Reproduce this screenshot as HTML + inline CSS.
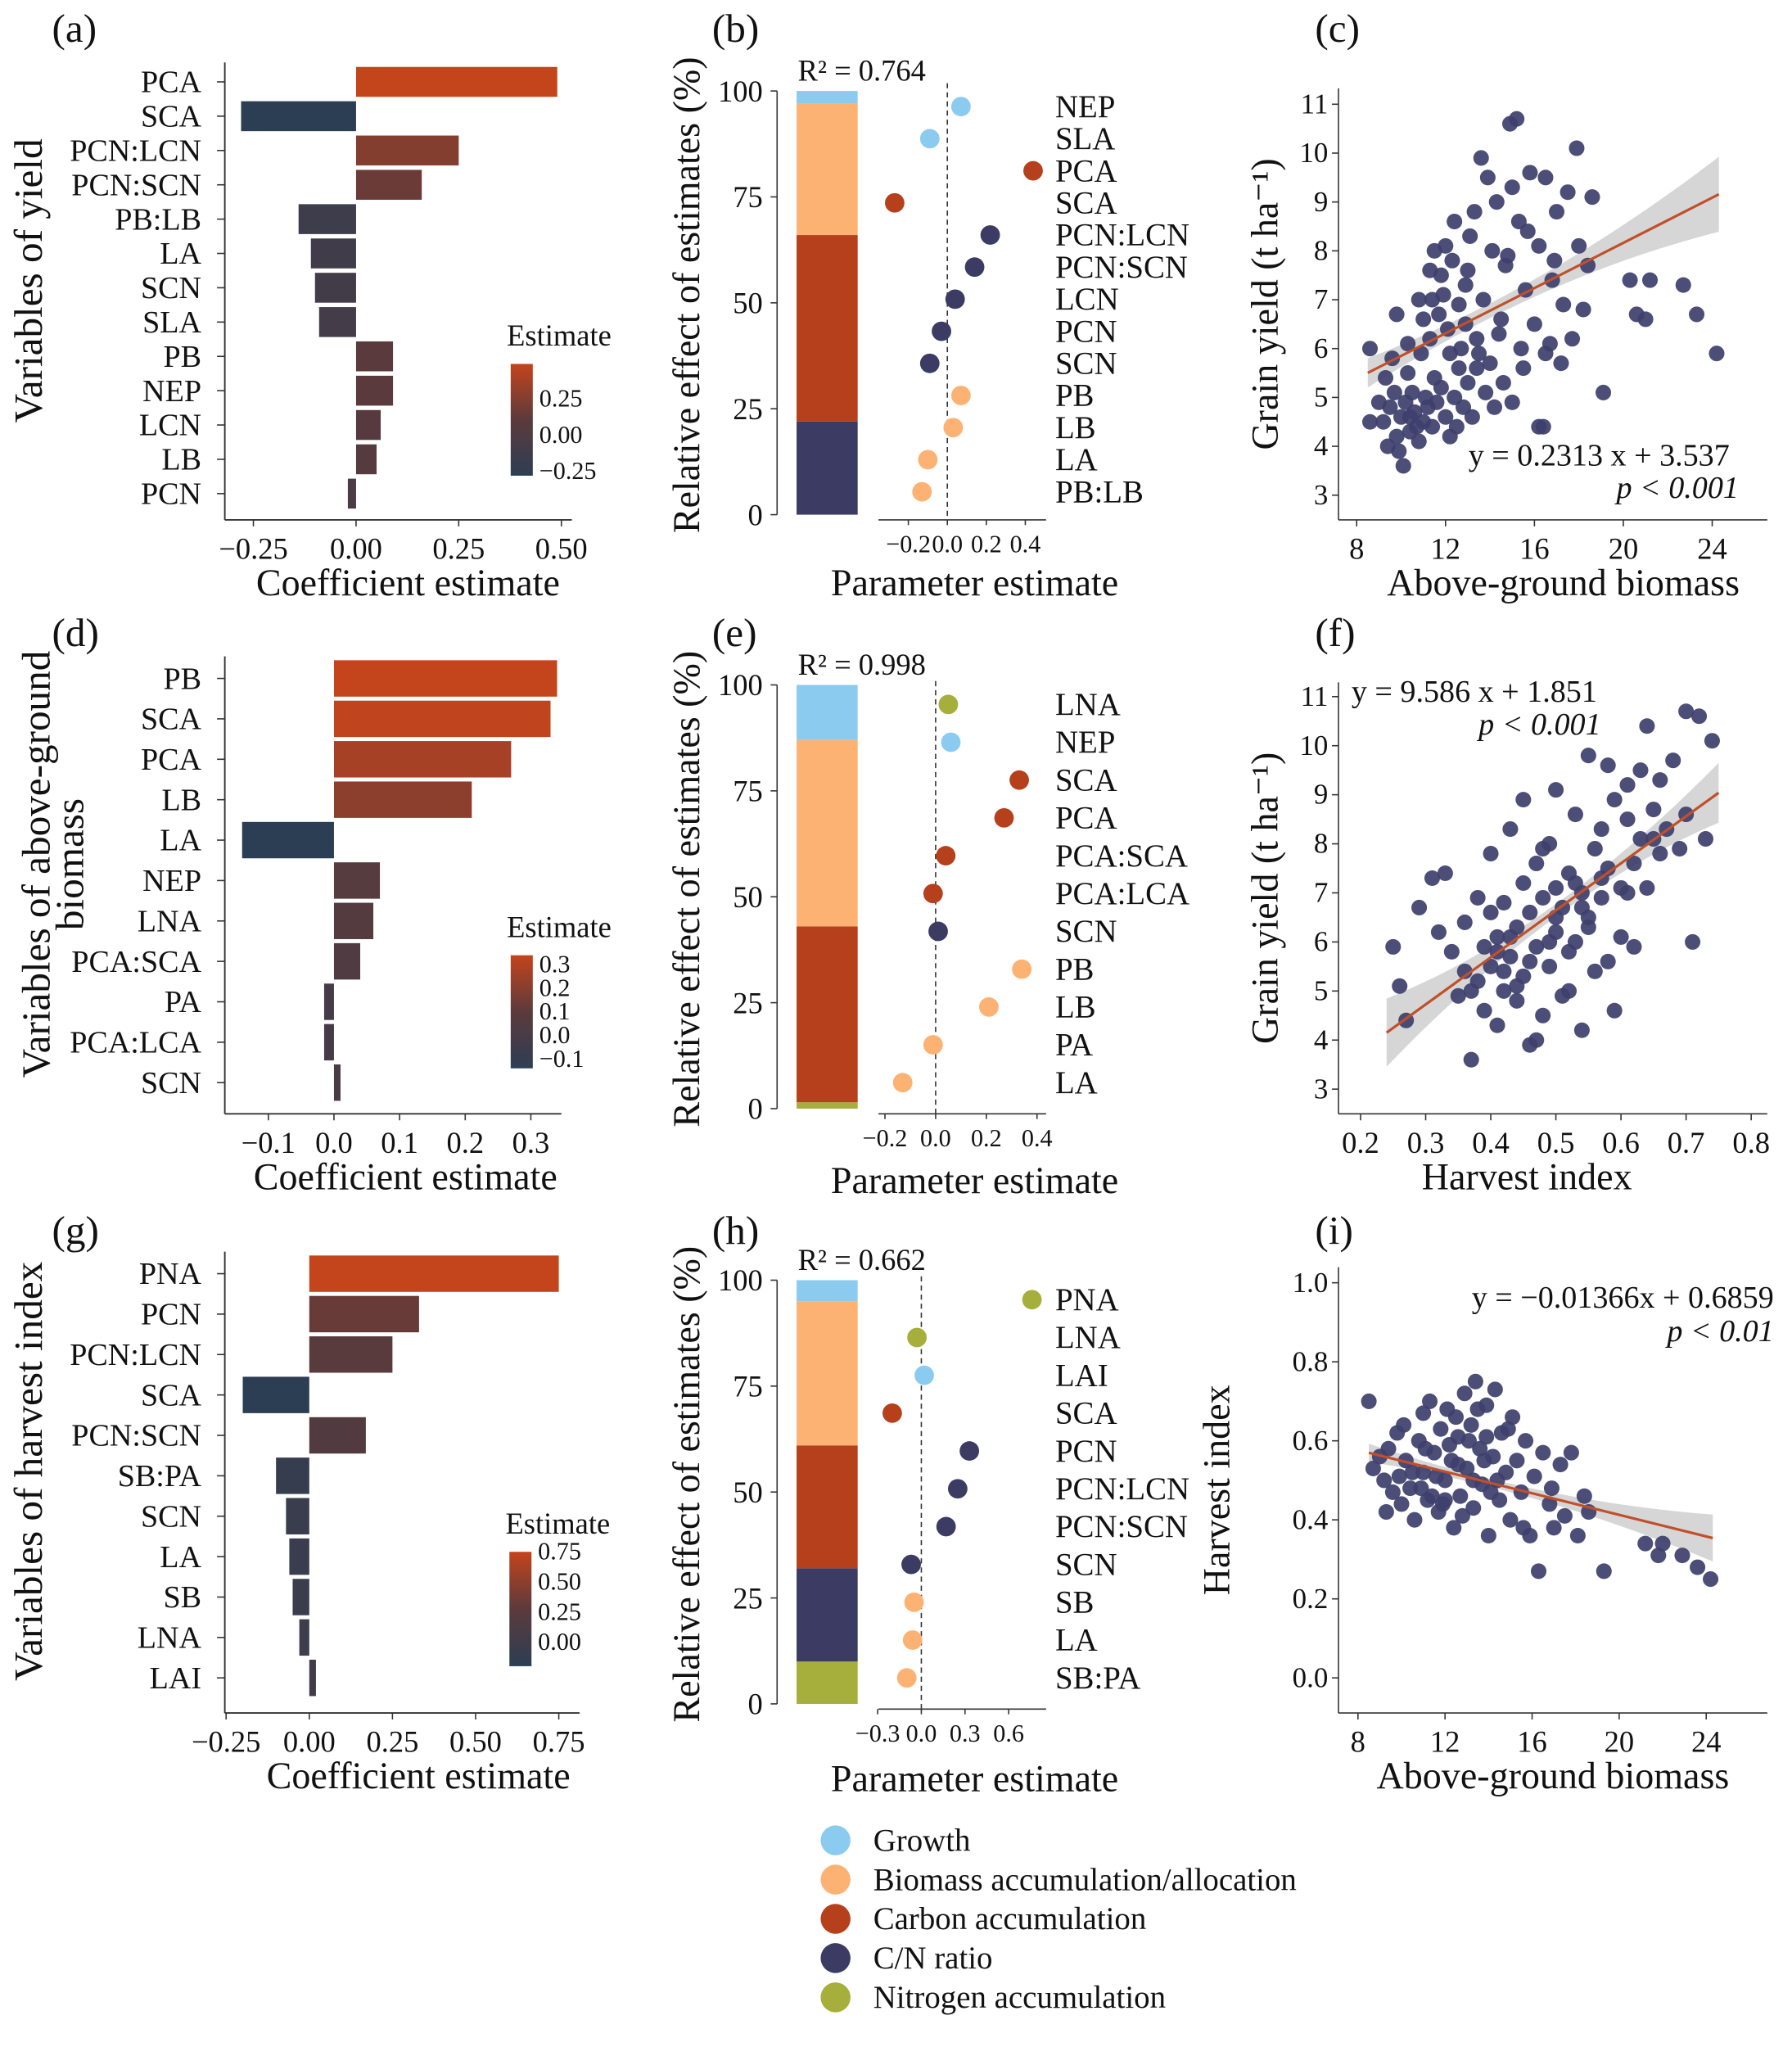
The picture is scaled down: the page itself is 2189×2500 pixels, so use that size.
<!DOCTYPE html>
<html><head><meta charset="utf-8"><style>
html,body{margin:0;padding:0;background:#fff;}
svg{display:block;font-family:"Liberation Serif",serif;}
</style></head><body>
<svg id="fig" width="2189" height="2500" viewBox="0 0 1379 1575" preserveAspectRatio="none" xmlns="http://www.w3.org/2000/svg"></svg>
<script>
// ---------- DATA ----------
const aCats=["PCA","SCA","PCN:LCN","PCN:SCN","PB:LB","LA","SCN","SLA","PB","NEP","LCN","LB","PCN"];
const aVals=[0.49,-0.28,0.25,0.16,-0.14,-0.11,-0.10,-0.09,0.09,0.09,0.06,0.05,-0.02];
const aTicks=[-0.25,0,0.25,0.5];
const aTickLabels=["\u22120.25","0.00","0.25","0.50"];
const dCats=["PB","SCA","PCA","LB","LA","NEP","LNA","PCA:SCA","PA","PCA:LCA","SCN"];
const dVals=[0.34,0.33,0.27,0.21,-0.14,0.07,0.06,0.04,-0.015,-0.015,0.01];
const dTicks=[-0.1,0,0.1,0.2,0.3];
const dTickLabels=["\u22120.1","0.0","0.1","0.2","0.3"];
const gCats=["PNA","PCN","PCN:LCN","SCA","PCN:SCN","SB:PA","SCN","LA","SB","LNA","LAI"];
const gVals=[0.75,0.33,0.25,-0.2,0.17,-0.1,-0.07,-0.06,-0.05,-0.03,0.02];
const gTicks=[-0.25,0,0.25,0.5,0.75];
const gTickLabels=["\u22120.25","0.00","0.25","0.50","0.75"];
// relative effects (stacked, %): order Nitrogen, C/N, Carbon, Biomass, Growth
const bShares=[0,22,44,31,3];
const eShares=[1.5,0,41.5,44,13];
const hShares=[10,22,29,34,5];
const bCats=["NEP","SLA","PCA","SCA","PCN:LCN","PCN:SCN","LCN","PCN","SCN","PB","LB","LA","PB:LB"];
const bEst=[0.07,-0.09,0.44,-0.27,0.22,0.14,0.04,-0.03,-0.09,0.07,0.03,-0.10,-0.13];
const bGroup=[4,4,2,2,1,1,1,1,1,3,3,3,3];
const eCats=["LNA","NEP","SCA","PCA","PCA:SCA","PCA:LCA","SCN","PB","LB","PA","LA"];
const eEst=[0.05,0.06,0.33,0.27,0.04,-0.01,0.01,0.34,0.21,-0.01,-0.13];
const eGroup=[0,4,2,2,2,2,1,3,3,3,3];
const hCats=["PNA","LNA","LAI","SCA","PCN","PCN:LCN","PCN:SCN","SCN","SB","LA","SB:PA"];
const hEst=[0.76,-0.03,0.02,-0.2,0.33,0.25,0.17,-0.07,-0.05,-0.06,-0.1];
const hGroup=[0,0,4,2,1,1,1,1,3,3,3];
const cX=[9.2,9.5,9.8,10.0,10.2,10.4,10.6,10.8,11.0,11.2,10.5,9.9,10.1,11.4,11.6,12.0,12.2,11.8,9.0,8.6,8.6,9.3,9.6,10.3,10.9,11.3,11.5,12.4,12.6,12.8,13.0,13.2,13.5,13.8,14.2,14.6,15.0,15.5,16.2,16.5,11.0,11.4,11.8,12.0,12.3,12.1,12.6,12.9,13.1,13.3,13.4,13.7,13.9,14.1,14.3,14.5,14.7,14.9,15.2,15.3,15.6,15.8,16.0,16.2,16.5,16.8,17.0,17.3,17.5,17.7,18.0,18.4,18.6,19.1,17.9,16.7,15.4,14.0,12.7,11.7,10.8,10.3,9.8,11.3,12.4,13.6,15.0,20.3,21.2,20.6,21.0,22.7,23.3,24.2,16.4,18.2,17.2,9.4,10.7,11.1,12.5,13.4,14.4,9.7,10.4,11.9,12.9,14.8,15.7,16.9,13.0,12.2,11.5];
const cY=[4.5,4.8,4.2,4.6,4.9,4.3,4.7,4.1,4.5,4.8,5.1,3.9,3.6,4.4,4.9,4.6,4.2,5.2,4.9,6.0,4.5,5.4,5.8,5.5,5.9,6.2,5.4,5.0,5.6,4.8,5.3,4.6,5.9,5.1,4.8,5.3,4.9,5.6,4.4,5.9,6.6,7.0,7.5,8.1,7.8,6.4,6.9,7.3,8.3,8.8,6.2,7.0,9.5,8.0,9.0,6.6,7.7,10.6,10.7,8.6,7.2,9.6,6.5,8.1,9.5,7.4,8.8,6.9,9.2,6.2,8.1,7.7,9.1,5.1,10.1,6.1,6.0,5.7,6.0,6.7,7.0,6.1,6.7,7.6,8.6,9.9,9.3,7.4,7.4,6.7,6.6,7.3,6.7,5.9,4.4,6.8,5.7,4.0,4.4,5.0,4.4,5.6,6.3,5.1,4.6,7.1,6.5,7.9,8.4,7.8,7.6,5.9,8.0];
const fX=[0.25,0.26,0.27,0.29,0.31,0.33,0.32,0.34,0.35,0.36,0.37,0.38,0.38,0.39,0.40,0.40,0.41,0.41,0.42,0.42,0.43,0.43,0.44,0.44,0.45,0.45,0.46,0.46,0.47,0.47,0.48,0.48,0.49,0.49,0.50,0.50,0.50,0.51,0.51,0.52,0.52,0.53,0.53,0.54,0.54,0.55,0.55,0.56,0.56,0.57,0.57,0.58,0.58,0.59,0.59,0.60,0.60,0.61,0.61,0.62,0.62,0.63,0.63,0.64,0.64,0.65,0.66,0.66,0.67,0.68,0.69,0.70,0.70,0.71,0.72,0.73,0.74,0.36,0.44,0.47,0.52,0.40,0.55,0.58,0.48,0.45,0.53,0.39,0.43,0.46,0.50,0.54,0.57,0.61,0.65,0.42,0.49,0.37,0.41];
const fY=[5.9,5.1,4.4,6.7,7.3,7.4,6.2,5.8,4.9,6.4,3.6,5.2,6.9,4.6,5.5,7.8,6.1,4.3,5.0,6.8,5.7,8.3,4.8,6.3,7.2,5.3,3.9,6.6,5.9,7.6,4.5,6.9,5.5,8.0,6.2,7.1,9.1,4.9,6.7,5.8,7.4,8.6,6.0,4.2,7.0,9.8,6.5,7.9,5.4,8.3,6.9,7.5,9.6,4.6,8.9,7.1,6.1,8.5,9.2,7.6,5.9,8.1,9.5,7.1,10.4,8.7,7.8,9.3,8.3,9.7,7.9,10.7,8.6,6.0,10.6,8.1,10.1,5.4,5.1,4.0,5.0,6.6,6.3,5.6,7.9,8.9,7.2,5.9,6.1,5.6,6.5,6.7,7.3,7.0,8.1,5.4,6.0,5.0,5.8];
const iX=[8.5,8.7,9.0,9.2,9.4,9.6,9.8,10.0,10.2,10.4,10.6,10.8,11.0,11.0,11.2,11.3,11.5,11.7,11.8,12.0,12.1,12.3,12.4,12.6,12.7,12.9,13.0,13.2,13.3,13.4,13.6,13.7,13.9,14.0,14.2,14.3,14.5,14.6,14.8,15.0,15.1,15.3,15.5,15.7,15.9,16.1,16.3,16.5,16.8,17.0,17.3,17.5,17.8,18.1,18.4,18.6,19.3,21.2,21.8,22.0,22.9,23.6,24.2,12.2,10.9,11.6,13.1,14.9,12.8,10.1,9.3,14.4,15.6,16.9,13.8,11.9,12.5,13.5,10.5,11.4,12.6,13.3,14.1,9.9,11.1,12.0,13.9];
const iY=[0.70,0.53,0.56,0.50,0.58,0.47,0.62,0.44,0.55,0.48,0.40,0.60,0.52,0.67,0.45,0.70,0.57,0.42,0.63,0.50,0.68,0.55,0.38,0.61,0.46,0.72,0.53,0.64,0.43,0.75,0.58,0.49,0.69,0.36,0.56,0.73,0.45,0.62,0.52,0.40,0.66,0.55,0.47,0.60,0.36,0.51,0.27,0.57,0.44,0.38,0.54,0.41,0.57,0.36,0.46,0.42,0.27,0.34,0.31,0.34,0.31,0.28,0.25,0.59,0.48,0.51,0.60,0.63,0.41,0.64,0.42,0.50,0.38,0.48,0.55,0.44,0.66,0.68,0.52,0.46,0.54,0.50,0.47,0.51,0.58,0.45,0.61];

// ---------- HELPERS ----------
const NS="http://www.w3.org/2000/svg";
const svg=document.getElementById('fig');
function mk(tag,attrs,parent,text){const e=document.createElementNS(NS,tag);for(const k in attrs)e.setAttribute(k,attrs[k]);if(text!==undefined)e.textContent=text;(parent||svg).appendChild(e);return e;}
function txt(x,y,s,size,anchor,name,extra){const t=mk('text',Object.assign({x:x,y:y,'font-size':size,'text-anchor':anchor||'start',fill:'#111'},extra||{}),null,s);


return t;}
const groupColors=["#a6ae3c","#3b3b63","#b6401c","#fcb273","#8ccbf0"];
function lerp(a,b,t){return a.map((v,i)=>Math.round(v+(b[i]-v)*t));}
function cmap(v,mn,mx){const t=Math.max(0,Math.min(1,(v-mn)/(mx-mn)));const lo=[44,62,84],mid=[92,58,60],hi=[196,68,28];const c=t<0.5?lerp(lo,mid,t*2):lerp(mid,hi,(t-0.5)*2);return `rgb(${c[0]},${c[1]},${c[2]})`;}

function barPanel(o){
  const sx=v=>o.x0+(v-o.v0)*o.k;
  mk('line',{x1:173,y1:o.top,x2:173,y2:o.axisY,stroke:'#333','stroke-width':1.2});
  mk('line',{x1:173,y1:o.axisY,x2:o.xEnd,y2:o.axisY,stroke:'#333','stroke-width':1.2});
  const mn=Math.min(...o.vals),mx=Math.max(...o.vals);
  o.cats.forEach((c,i)=>{
    const y=o.y0+i*o.step;
    const v=o.vals[i];
    const r=mk('rect',{x:Math.min(sx(0),sx(v)),y:y-o.bh/2,width:Math.abs(sx(v)-sx(0)),height:o.bh,fill:cmap(v,mn,mx)});
    
    
    mk('line',{x1:167,y1:y,x2:173,y2:y,stroke:'#333'});
    txt(155,y+8,c,24,'end','row-label');
  });
  o.ticks.forEach((t,i)=>{
    mk('line',{x1:sx(t),y1:o.axisY,x2:sx(t),y2:o.axisY+5,stroke:'#333'});
    txt(sx(t),o.axisY+30,o.tickLabels[i],23,'middle','x-tick-label');
  });
  txt(o.titleX,o.axisY+58,'Coefficient estimate',29,'middle','x-axis-title');
  const cb=o.cb;
  const defs=mk('defs',{});
  const lg=mk('linearGradient',{id:o.id,x1:0,y1:1,x2:0,y2:0},defs);
  for(let s=0;s<=10;s++)mk('stop',{offset:s/10,'stop-color':cmap(mn+(mx-mn)*s/10,mn,mx)},lg);
  txt(cb.x-3,cb.top-14,'Estimate',23,'start','legend-title');
  const r=mk('rect',{x:cb.x,y:cb.top,width:17,height:cb.bot-cb.top,fill:`url(#${o.id})`});
  
  
  cb.ticks.forEach((t,i)=>{const y=cb.bot-(t-mn)/(mx-mn)*(cb.bot-cb.top);txt(cb.x+22,y+6,cb.labels[i],19,'start','colorbar-label');});
}

function dotPanel(o){
  const sy=p=>o.y0-p/100*(o.y0-o.y100);
  mk('line',{x1:598,y1:sy(0),x2:598,y2:sy(100),stroke:'#333'});
  [0,25,50,75,100].forEach(t=>{mk('line',{x1:593,y1:sy(t),x2:598,y2:sy(t),stroke:'#333'});txt(587,sy(t)+8,String(t),23,'end','y-tick-label');});
  let acc=0;
  o.shares.forEach((s,i)=>{if(s<=0)return;const r=mk('rect',{x:613,y:sy(acc+s),width:47,height:sy(acc)-sy(acc+s),fill:groupColors[i]});
    
    
    acc+=s;});
  txt(614,sy(100)-8,o.r2,23,'start','r-squared-label');
  txt(0,0,'Relative effect of estimates (%)',29,'middle','y-axis-title',{transform:`translate(538,${(sy(0)+sy(100))/2-6}) rotate(-90)`});
  const sx=v=>o.zero+v*o.k;
  mk('line',{x1:676,y1:o.axisY,x2:805,y2:o.axisY,stroke:'#333'});
  mk('line',{x1:sx(0),y1:o.rowY0-18,x2:sx(0),y2:o.axisY,stroke:'#333','stroke-dasharray':'4,3'});
  o.ticks.forEach((tk,i)=>{mk('line',{x1:sx(tk),y1:o.axisY,x2:sx(tk),y2:o.axisY+4,stroke:'#333'});txt(sx(tk),o.axisY+25,o.tickLabels[i],19,'middle','x-tick-label');});
  o.cats.forEach((c,i)=>{const y=o.rowY0+i*o.step;
    const d=mk('circle',{cx:sx(o.est[i]),cy:y,r:7.5,fill:groupColors[o.group[i]]});
    
    
    txt(812,y+8,c,24.5,'start','row-label');});
  txt(750,o.titleY,'Parameter estimate',29,'middle','x-axis-title');
}

function scatterPanel(o){
  const sx=v=>o.xp0+(v-o.xv0)*o.kx, sy=v=>o.yp0-(v-o.yv0)*o.ky;
  mk('line',{x1:o.left,y1:o.top,x2:o.left,y2:o.bottom,stroke:'#333'});
  mk('line',{x1:o.left,y1:o.bottom,x2:o.right,y2:o.bottom,stroke:'#333'});
  o.xt.forEach((t,i)=>{mk('line',{x1:sx(t),y1:o.bottom,x2:sx(t),y2:o.bottom+5,stroke:'#333'});txt(sx(t),o.bottom+30,o.xtl[i],23,'middle','x-tick-label');});
  o.yt.forEach((t,i)=>{mk('line',{x1:o.left-5,y1:sy(t),x2:o.left,y2:sy(t),stroke:'#333'});txt(o.left-8,sy(t)+7,o.ytl[i],22,'end','y-tick-label');});
  const xm=o.xs.reduce((a,b)=>a+b,0)/o.xs.length;
  const up=[],dn=[];
  for(let s=0;s<=30;s++){const x=o.lx0+(o.lx1-o.lx0)*s/30;const y=o.a*x+o.b;const hw=o.h0+o.h1*(x-xm)*(x-xm);up.push(sx(x)+','+sy(y+hw));dn.unshift(sx(x)+','+sy(y-hw));}
  const band=mk('polygon',{points:up.concat(dn).join(' '),fill:'#c8c8c8','fill-opacity':0.75});
  
  
  o.xs.forEach((x,i)=>{const c=mk('circle',{cx:sx(x),cy:sy(o.ys[i]),r:6,fill:'#3e3f6c','fill-opacity':0.92});
    
    });
  const l=mk('line',{x1:sx(o.lx0),y1:sy(o.a*o.lx0+o.b),x2:sx(o.lx1),y2:sy(o.a*o.lx1+o.b),stroke:'#c0502a','stroke-width':2});
  
  
  txt(o.xtitleX,o.bottom+58,o.xtitle,29,'middle','x-axis-title');
  txt(0,0,o.ytitle,29,'middle','y-axis-title',{transform:`translate(${o.ytX},${(o.top+o.bottom)/2}) rotate(-90)`});
}

// ---------- PANELS ----------
[["(a)",40,32],["(b)",548,32],["(c)",1012,32],["(d)",40,497],["(e)",548,497],["(f)",1012,497],["(g)",40,957],["(h)",548,957],["(i)",1012,957]].forEach(p=>txt(p[1],p[2],p[0],31,'start','panel-label'));

barPanel({id:'ga',cats:aCats,vals:aVals,ticks:aTicks,tickLabels:aTickLabels,x0:274,v0:0,k:316,y0:63,step:26.4,bh:23,top:48,axisY:400,xEnd:440,titleX:314,
  cb:{x:393,top:280,bot:366,ticks:[0.25,0,-0.25],labels:["0.25","0.00","\u22120.25"]}});
txt(0,0,'Variables of yield',31,'middle','y-axis-title',{transform:'translate(32,216) rotate(-90)'});
barPanel({id:'gd',cats:dCats,vals:dVals,ticks:dTicks,tickLabels:dTickLabels,x0:257,v0:0,k:505,y0:522,step:31.1,bh:28,top:505,axisY:857,xEnd:432,titleX:312,
  cb:{x:393,top:735,bot:822,ticks:[0.3,0.2,0.1,0,-0.1],labels:["0.3","0.2","0.1","0.0","\u22120.1"]}});
txt(0,0,'Variables of above-ground',31,'middle','y-axis-title',{transform:'translate(38,665) rotate(-90)'});
txt(0,0,'biomass',31,'middle','y-axis-title',{transform:'translate(64,665) rotate(-90)'});
barPanel({id:'gg',cats:gCats,vals:gVals,ticks:gTicks,tickLabels:gTickLabels,x0:238,v0:0,k:256,y0:980,step:31.1,bh:28,top:963,axisY:1318,xEnd:446,titleX:322,
  cb:{x:392,top:1194,bot:1282,ticks:[0.75,0.5,0.25,0],labels:["0.75","0.50","0.25","0.00"]}});
txt(0,0,'Variables of harvest index',31,'middle','y-axis-title',{transform:'translate(32,1132) rotate(-90)'});

dotPanel({shares:bShares,y0:396,y100:70,r2:'R\u00b2 = 0.764',cats:bCats,est:bEst,group:bGroup,zero:729,k:150,rowY0:82,step:24.7,axisY:400,ticks:[-0.2,0,0.2,0.4],tickLabels:["\u22120.2","0.0","0.2","0.4"],titleY:458});
dotPanel({shares:eShares,y0:853,y100:527,r2:'R\u00b2 = 0.998',cats:eCats,est:eEst,group:eGroup,zero:720,k:195,rowY0:542,step:29.1,axisY:857,ticks:[-0.2,0,0.2,0.4],tickLabels:["\u22120.2","0.0","0.2","0.4"],titleY:918});
dotPanel({shares:hShares,y0:1311,y100:985,r2:'R\u00b2 = 0.662',cats:hCats,est:hEst,group:hGroup,zero:709,k:112,rowY0:1000,step:29.1,axisY:1315,ticks:[-0.3,0,0.3,0.6],tickLabels:["\u22120.3","0.0","0.3","0.6"],titleY:1378});

scatterPanel({xs:cX,ys:cY,left:1030,right:1360,top:68,bottom:400,xp0:1044,xv0:8,kx:17.1,yp0:381,yv0:3,ky:37.6,
  xt:[8,12,16,20,24],xtl:["8","12","16","20","24"],yt:[3,4,5,6,7,8,9,10,11],ytl:["3","4","5","6","7","8","9","10","11"],
  a:0.2313,b:3.537,lx0:8.5,lx1:24.3,h0:0.15,h1:0.0055,xtitle:'Above-ground biomass',xtitleX:1203,ytitle:'Grain yield (t ha\u207b\u00b9)',ytX:983});
txt(1130,358,'y = 0.2313 x + 3.537',24,'start','equation');
txt(1338,383,'p < 0.001',24,'end','p-value',{'font-style':'italic'});
scatterPanel({xs:fX,ys:fY,left:1030,right:1360,top:525,bottom:857,xp0:1047,xv0:0.2,kx:501,yp0:838,yv0:3,ky:37.75,
  xt:[0.2,0.3,0.4,0.5,0.6,0.7,0.8],xtl:["0.2","0.3","0.4","0.5","0.6","0.7","0.8"],yt:[3,4,5,6,7,8,9,10,11],ytl:["3","4","5","6","7","8","9","10","11"],
  a:9.586,b:1.851,lx0:0.24,lx1:0.75,h0:0.13,h1:8,xtitle:'Harvest index',xtitleX:1175,ytitle:'Grain yield (t ha\u207b\u00b9)',ytX:983});
txt(1040,540,'y = 9.586 x + 1.851',24,'start','equation');
txt(1232,565,'p < 0.001',24,'end','p-value',{'font-style':'italic'});
scatterPanel({xs:iX,ys:iY,left:1030,right:1360,top:975,bottom:1318,xp0:1045,xv0:8,kx:16.75,yp0:1291,yv0:0,ky:304,
  xt:[8,12,16,20,24],xtl:["8","12","16","20","24"],yt:[0,0.2,0.4,0.6,0.8,1.0],ytl:["0.0","0.2","0.4","0.6","0.8","1.0"],
  a:-0.01366,b:0.6859,lx0:8.5,lx1:24.3,h0:0.01,h1:0.00045,xtitle:'Above-ground biomass',xtitleX:1195,ytitle:'Harvest index',ytX:946});
txt(1365,1006,'y = \u22120.01366x + 0.6859',24,'end','equation');
txt(1365,1032,'p < 0.01',24,'end','p-value',{'font-style':'italic'});

// legend
const legNames=["Growth","Biomass accumulation/allocation","Carbon accumulation","C/N ratio","Nitrogen accumulation"];
const legCols=[4,3,2,1,0];
legNames.forEach((n,i)=>{const y=1416+i*30.2;
  const c=mk('circle',{cx:643,cy:y,r:11.5,fill:groupColors[legCols[i]]});
  
  
  txt(672,y+8,n,24.5,'start','legend-entry');});
</script>
</body></html>
